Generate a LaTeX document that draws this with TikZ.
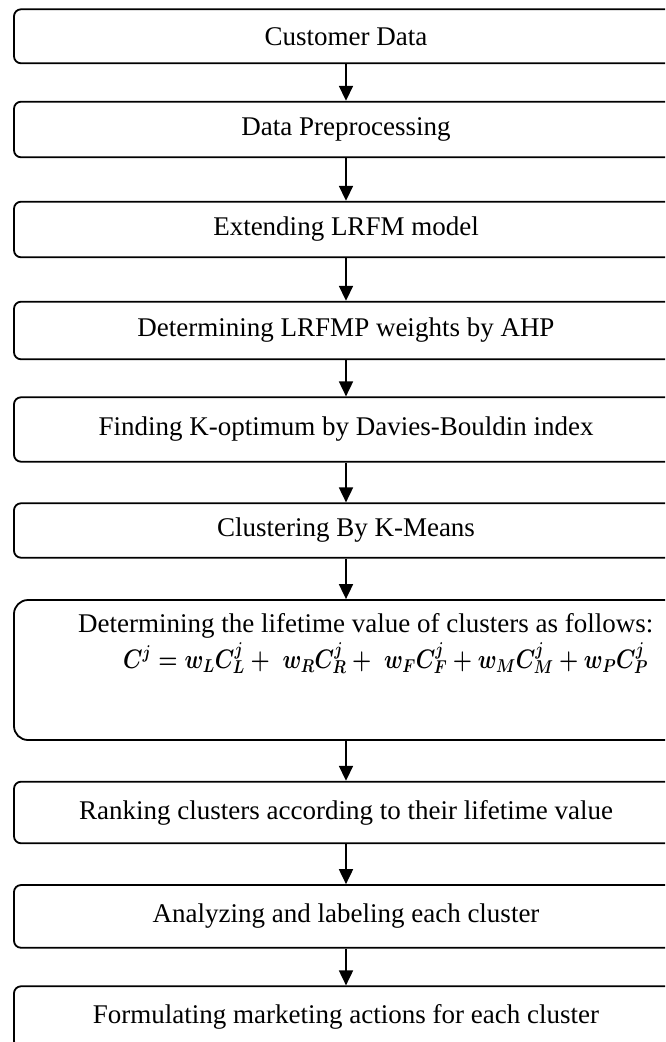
\documentclass[tikz,border=0pt]{standalone}
\usepackage{graphicx}
\usepackage{fontspec}
\setmainfont{Liberation Serif}
\usetikzlibrary{arrows.meta}
\tikzset{
  stepbox/.style={draw=black, line width=1.8pt, rounded corners=7pt, minimum width=664pt, inner sep=0pt, align=center, font=\fontsize{27}{32}\selectfont},
  bigbox/.style={stepbox, rounded corners=14pt},
  arr/.style={line width=1.8pt, -{Triangle[width=14pt,length=15pt]}},
  txt/.style={inner sep=0pt, font=\fontsize{27}{32}\selectfont}
}
\begin{document}
\begin{tikzpicture}[x=1pt,y=-1pt]
\useasboundingbox (0,0) rectangle (665,1042);
\clip (0,0) rectangle (665,1042);
\node[stepbox, minimum height=54pt] (b1) at (346,36.3) {Customer Data};
\node[stepbox, minimum height=55.6pt] (b2) at (346,129.5) {Data Preprocessing};
\node[stepbox, minimum height=55.6pt] (b3) at (346,229.5) {Extending LRFM model};
\node[stepbox, minimum height=57.6pt] (b4) at (346,330.5) {Determining LRFMP weights by AHP};
\node[stepbox, minimum height=64.4pt] (b5) at (346,429.5) {Finding K-optimum by Davies-Bouldin index};
\node[stepbox, minimum height=54.4pt] (b6) at (346,530.5) {Clustering By K-Means};
\node[bigbox, minimum height=140pt] (b7) at (346,670) {};
\node[txt, anchor=west] (t7a) at (78,626) {Determining the lifetime value of clusters as follows:};
\node[txt, anchor=west] (t7b) at (123,658) {\resizebox{525pt}{26pt}{\boldmath$C^{j} = w_{L}C_{L}^{j} +\; w_{R}C_{R}^{j} +\; w_{F}C_{F}^{j} + w_{M}C_{M}^{j} + w_{P}C_{P}^{j}$}};
\node[stepbox, minimum height=61.6pt] (b8) at (346,812.5) {Ranking clusters according to their lifetime value};
\node[stepbox, minimum height=62.7pt] (b9) at (346,916.4) {Analyzing and labeling each cluster};
\node[stepbox, minimum height=62pt] (b10) at (346,1017.3) {Formulating marketing actions for each cluster};
\draw[arr] (b1) -- (b2);
\draw[arr] (b2) -- (b3);
\draw[arr] (b3) -- (b4);
\draw[arr] (b4) -- (b5);
\draw[arr] (b5) -- (b6);
\draw[arr] (b6) -- (b7);
\draw[arr] (b7) -- (b8);
\draw[arr] (b8) -- (b9);
\draw[arr] (b9) -- (b10);
\end{tikzpicture}
\end{document}
